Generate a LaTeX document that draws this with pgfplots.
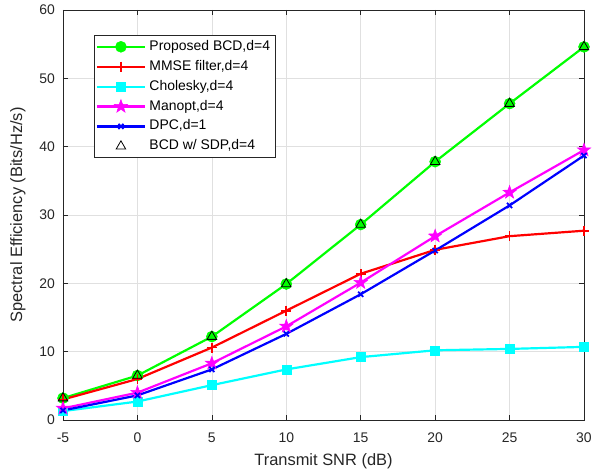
\documentclass[border=0pt]{standalone}
\usepackage{pgfplots}
\pgfplotsset{compat=1.18}
\usepackage{fontspec}
\setmainfont{Liberation Sans}
\setsansfont{Liberation Sans}
\definecolor{mgreen}{rgb}{0,1,0}
\definecolor{mred}{rgb}{1,0,0}
\definecolor{mcyan}{rgb}{0,1,1}
\definecolor{mmag}{rgb}{1,0,1}
\definecolor{mblue}{rgb}{0,0,1}
\definecolor{mgrid}{gray}{0.88}
\definecolor{maxis}{gray}{0.15}
\pgfdeclareplotmark{fstar}{%
  \pgfpathmoveto{\pgfpointpolar{90}{\pgfplotmarksize}}%
  \pgfpathlineto{\pgfpointpolar{126}{0.4\pgfplotmarksize}}%
  \pgfpathlineto{\pgfpointpolar{162}{\pgfplotmarksize}}%
  \pgfpathlineto{\pgfpointpolar{198}{0.4\pgfplotmarksize}}%
  \pgfpathlineto{\pgfpointpolar{234}{\pgfplotmarksize}}%
  \pgfpathlineto{\pgfpointpolar{270}{0.4\pgfplotmarksize}}%
  \pgfpathlineto{\pgfpointpolar{306}{\pgfplotmarksize}}%
  \pgfpathlineto{\pgfpointpolar{342}{0.4\pgfplotmarksize}}%
  \pgfpathlineto{\pgfpointpolar{18}{\pgfplotmarksize}}%
  \pgfpathlineto{\pgfpointpolar{54}{0.4\pgfplotmarksize}}%
  \pgfpathclose
  \pgfusepathqfillstroke
}
\begin{document}
\begin{tikzpicture}
\begin{axis}[
  scale only axis,
  width=521bp, height=410bp,
  xmin=-5, xmax=30, ymin=0, ymax=60,
  xtick={-5,0,5,10,15,20,25,30},
  ytick={0,10,20,30,40,50,60},
  grid=major,
  major grid style={mgrid, line width=0.6pt},
  axis line style={maxis, line width=0.7pt},
  tick style={maxis, line width=0.7pt},
  tick align=inside,
  major tick length=5bp,
  /pgf/number format/assume math mode=true,
  ticklabel style={font=\fontsize{14}{16}\selectfont, text=maxis, inner sep=0pt},
  yticklabel style={xshift=-8bp},
  xticklabel style={yshift=-13bp},
  xlabel={Transmit SNR (dB)},
  ylabel={Spectral Efficiency (Bits/Hz/s)},
  label style={font=\fontsize{16.5}{18}\selectfont, text=maxis, inner sep=0pt},
  xlabel style={at={(axis description cs:0.5,-0.1098)}, anchor=base},
  ylabel style={at={(axis description cs:-0.0864,0.5)}, anchor=center},
  legend style={at={(0.0595,0.939)}, anchor=north west, font=\fontsize{14}{16}\selectfont,
    draw=maxis, line width=0.7pt, inner sep=1.5bp, fill=white,
    nodes={inner sep=3.45bp, text height=10bp, text depth=3bp}},
  legend cell align=left,
  legend image code/.code={
    \draw[mark repeat=2,mark phase=2] plot coordinates {(0bp,0bp) (24bp,0bp) (48bp,0bp)};
  },
]
\addplot[color=mgreen, line width=2.2pt, mark=*, mark size=5.5bp, mark options={fill=mgreen, draw=mgreen, line width=0.5pt}]
  coordinates {(-5,3.2) (0,6.5) (5,12.2) (10,19.9) (15,28.6) (20,37.8) (25,46.3) (30,54.6)};
\addlegendentry{Proposed BCD,d=4}
\addplot[color=mred, line width=2.2pt, mark=+, mark size=5bp, mark options={line width=1.8pt}]
  coordinates {(-5,3.0) (0,6.0) (5,10.6) (10,16.0) (15,21.4) (20,24.9) (25,26.9) (30,27.7)};
\addlegendentry{MMSE filter,d=4}
\addplot[color=mcyan, line width=2.2pt, mark=square*, mark size=4.5bp, mark options={fill=mcyan, draw=mcyan, line width=0.5pt}]
  coordinates {(-5,1.3) (0,2.7) (5,5.1) (10,7.4) (15,9.2) (20,10.2) (25,10.4) (30,10.7)};
\addlegendentry{Cholesky,d=4}
\addplot[color=mmag, line width=2.2pt, mark=fstar, mark size=7bp, mark options={fill=mmag, draw=mmag, line width=0.5pt}]
  coordinates {(-5,1.7) (0,4.0) (5,8.3) (10,13.7) (15,20.1) (20,26.9) (25,33.3) (30,39.5)};
\addlegendentry{Manopt,d=4}
\addplot[color=mblue, line width=2.2pt, mark=x, mark size=3.6bp, mark options={line width=1.8pt}]
  coordinates {(-5,1.4) (0,3.6) (5,7.4) (10,12.6) (15,18.4) (20,24.8) (25,31.4) (30,38.7)};
\addlegendentry{DPC,d=1}
\addplot[only marks, black, mark=triangle, mark size=5.5bp, mark options={line width=0.8pt}]
  coordinates {(-5,3.2) (0,6.5) (5,12.2) (10,19.9) (15,28.6) (20,37.8) (25,46.3) (30,54.6)};
\addlegendentry{BCD w/ SDP,d=4}
\end{axis}
\pgfresetboundingbox
\useasboundingbox ([xshift=-63bp,yshift=-54bp]current axis.south west) rectangle ([xshift=21bp,yshift=10bp]current axis.north east);
\end{tikzpicture}
\end{document}
